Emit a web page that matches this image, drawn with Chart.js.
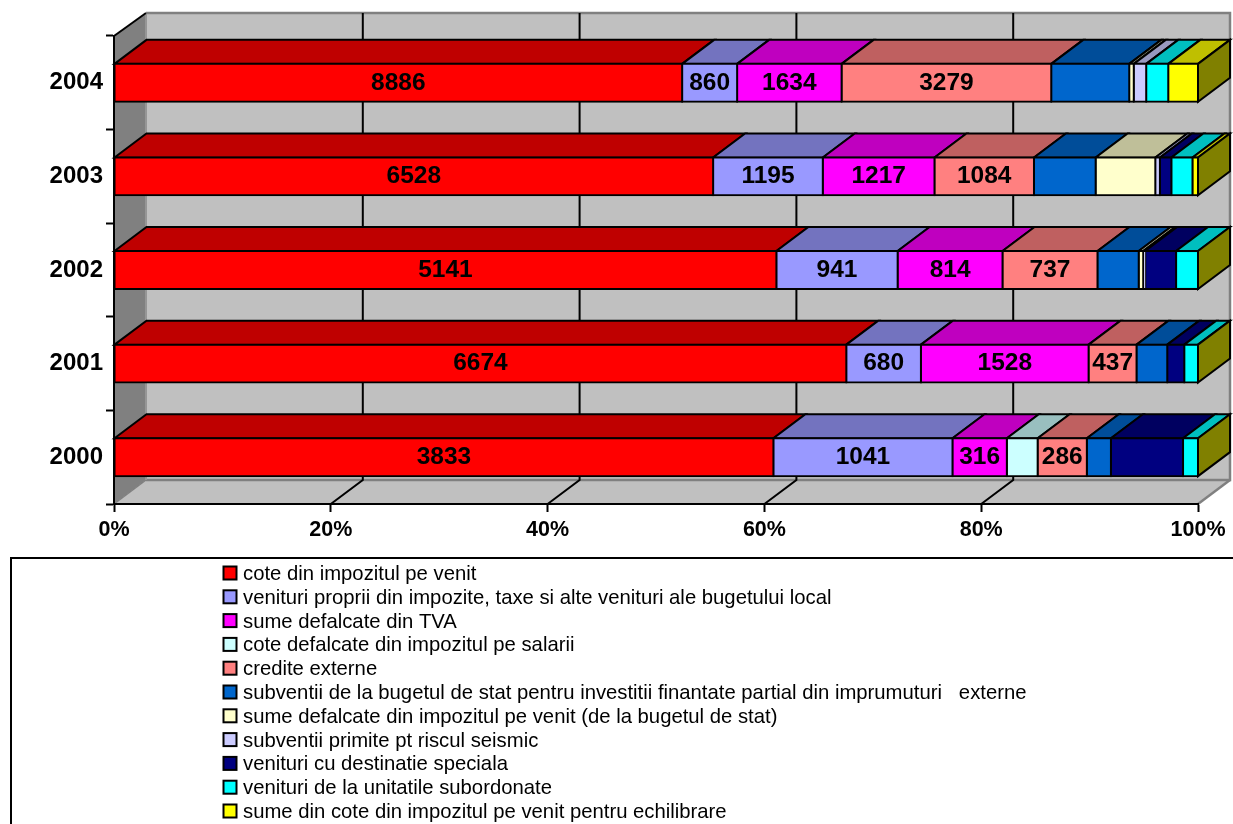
<!DOCTYPE html>
<html>
<head>
<meta charset="utf-8">
<style>html,body{margin:0;padding:0;background:#fff;overflow:hidden}canvas{display:block}</style>
<script src="https://cdn.jsdelivr.net/npm/chart.js@4/dist/chart.umd.min.js"></script>
</head>
<body>
<canvas id="c" width="1233" height="824"></canvas>
<script>
const years = ['2000','2001','2002','2003','2004'];
const tickLabels = ['0%','20%','40%','60%','80%','100%'];

const coteImpozit   = [3833,6674,5141,6528,8886];
const venituriProprii = [1041,680,941,1195,860];
const sumeTVA       = [316,1528,814,1217,1634];
const coteSalarii   = [179,0,0,0,0];
const crediteExterne= [286,437,737,1084,3279];
const subventiiInv  = [140,280,320,672,1220];
const sumeImpozit   = [0,0,35,650,70];
const subventiiSeism= [0,0,15,50,195];
const destSpeciala  = [419,155,240,125,0];
const unitati       = [87,125,170,230,345];
const echilibrare   = [0,0,0,60,465];

const seriesNames = [
  'cote din impozitul pe venit',
  'venituri proprii din impozite, taxe si alte venituri ale bugetului local',
  'sume defalcate din TVA',
  'cote defalcate din impozitul pe salarii',
  'credite externe',
  'subventii de la bugetul de stat pentru investitii finantate partial din imprumuturi   externe',
  'sume defalcate din impozitul pe venit (de la bugetul de stat)',
  'subventii primite pt riscul seismic',
  'venituri cu destinatie speciala',
  'venituri de la unitatile subordonate',
  'sume din cote din impozitul pe venit pentru echilibrare'
];
const seriesValues = [coteImpozit,venituriProprii,sumeTVA,coteSalarii,crediteExterne,subventiiInv,sumeImpozit,subventiiSeism,destSpeciala,unitati,echilibrare];
const seriesColors = ['#FF0000','#9999FF','#FF00FF','#CCFFFF','#FF8080','#0066CC','#FFFFCC','#CCCCFF','#000080','#00FFFF','#FFFF00'];
const topColors    = ['#BF0000','#7373BF','#BF00BF','#99BFBF','#BF6060','#004D99','#BFBF99','#9999BF','#000060','#00BFBF','#BFBF00'];
const labelledSeries = [0,1,2,4];

const totals = years.map((_,i)=>seriesValues.reduce((s,a)=>s+a[i],0));
const percent = (a)=>a.map((v,i)=>v>0?v/totals[i]*100:null);

const DX=32, DY=24, WALL_TOP=13;
const FONT='"Liberation Sans", Arial, sans-serif';

const scene3d = {
  id:'scene3d',
  beforeDraw(chart){
    const {ctx,chartArea:a}=chart, xs=chart.scales.x;
    ctx.save();
    // left wall
    ctx.fillStyle='#808080';
    ctx.beginPath();ctx.moveTo(a.left,a.top);ctx.lineTo(a.left+DX,WALL_TOP);ctx.lineTo(a.left+DX,a.bottom-DY);ctx.lineTo(a.left,a.bottom);ctx.closePath();ctx.fill();
    // back wall
    ctx.fillStyle='#C0C0C0';
    ctx.fillRect(a.left+DX,WALL_TOP,a.right-a.left,a.bottom-DY-WALL_TOP);
    // floor
    ctx.beginPath();ctx.moveTo(a.left,a.bottom);ctx.lineTo(a.right,a.bottom);ctx.lineTo(a.right+DX,a.bottom-DY);ctx.lineTo(a.left+DX,a.bottom-DY);ctx.closePath();ctx.fill();
    // wall edges
    ctx.strokeStyle='#808080';ctx.lineWidth=2.5;
    ctx.beginPath();ctx.moveTo(a.left+DX,WALL_TOP);ctx.lineTo(a.right+DX,WALL_TOP);ctx.lineTo(a.right+DX,a.bottom-DY);ctx.lineTo(a.left+DX,a.bottom-DY);ctx.stroke();
    ctx.beginPath();ctx.moveTo(a.right+DX,a.bottom-DY);ctx.lineTo(a.right,a.bottom);ctx.stroke();
    ctx.lineWidth=1.5;
    ctx.beginPath();ctx.moveTo(a.left,a.bottom);ctx.lineTo(a.left+DX,a.bottom-DY);ctx.stroke();
    ctx.strokeStyle='#969696';ctx.lineWidth=2;
    ctx.beginPath();ctx.moveTo(a.left+DX,WALL_TOP);ctx.lineTo(a.left+DX,a.bottom-DY);ctx.stroke();
    // grid lines on back wall and floor
    ctx.strokeStyle='#000';ctx.lineWidth=2;
    xs.ticks.forEach((t,i)=>{
      const x=xs.getPixelForTick(i);
      if(i===0||i===xs.ticks.length-1) return;
      ctx.beginPath();ctx.moveTo(x,a.bottom);ctx.lineTo(x+DX,a.bottom-DY);ctx.lineTo(x+DX,WALL_TOP);ctx.stroke();
    });
    // top edge of left wall
    ctx.beginPath();ctx.moveTo(a.left,a.top);ctx.lineTo(a.left+DX,WALL_TOP);ctx.stroke();
    ctx.restore();
  },
  beforeDatasetsDraw(chart){
    const {ctx}=chart;
    ctx.save();
    ctx.strokeStyle='#000';ctx.lineWidth=2;ctx.lineJoin='miter';
    years.forEach((_,j)=>{
      let lastX=null,top=0,bot=0;
      seriesValues.forEach((s,i)=>{
        const el=chart.getDatasetMeta(i).data[j];
        if(!el||s[j]<=0) return;
        const p=el.getProps(['x','y','base','height'],true);
        top=p.y-p.height/2;bot=p.y+p.height/2;
        ctx.fillStyle=topColors[i];
        ctx.beginPath();ctx.moveTo(p.base,top);ctx.lineTo(p.base+DX,top-DY);ctx.lineTo(p.x+DX,top-DY);ctx.lineTo(p.x,top);ctx.closePath();ctx.fill();ctx.stroke();
        lastX=p.x;
      });
      ctx.fillStyle='#808000';
      ctx.beginPath();ctx.moveTo(lastX,top);ctx.lineTo(lastX+DX,top-DY);ctx.lineTo(lastX+DX,bot-DY);ctx.lineTo(lastX,bot);ctx.closePath();ctx.fill();ctx.stroke();
    });
    ctx.restore();
  },
  afterDatasetsDraw(chart){
    const {ctx}=chart;
    ctx.save();
    ctx.fillStyle='#000';ctx.font='bold 24.5px '+FONT;ctx.textAlign='center';ctx.textBaseline='middle';
    labelledSeries.forEach(i=>{
      seriesValues[i].forEach((v,j)=>{
        const el=chart.getDatasetMeta(i).data[j];
        if(v<=0) return;
        const c=el.getCenterPoint();
        ctx.fillText(String(v),c.x,c.y);
      });
    });
    ctx.restore();
  },
  afterDraw(chart){
    const {ctx}=chart;
    ctx.save();
    // legend frame, runs off the picture to the right and below
    ctx.strokeStyle='#000';ctx.lineWidth=2;
    ctx.beginPath();ctx.moveTo(11,826);ctx.lineTo(11,558);ctx.lineTo(1235,558);ctx.stroke();
    ctx.font='20.3px '+FONT;ctx.textAlign='left';ctx.textBaseline='alphabetic';
    seriesNames.forEach((name,i)=>{
      const y=566.5+i*23.8;
      ctx.fillStyle=seriesColors[i];ctx.fillRect(223.5,y,13,13);
      ctx.strokeStyle='#000';ctx.lineWidth=2;ctx.strokeRect(223.5,y,13,13);
      ctx.fillStyle='#000';ctx.fillText(name,243,y+13.5);
    });
    ctx.restore();
  }
};

new Chart(document.getElementById('c'),{
  type:'bar',
  plugins:[scene3d],
  data:{
    labels:years,
    datasets:seriesNames.map((n,i)=>({
      label:n,
      data:percent(seriesValues[i]),
      backgroundColor:seriesColors[i],
      borderColor:'#000',
      borderWidth:2,
      borderSkipped:false,
      inflateAmount:1,
      clip:false,
      barPercentage:0.405,
      categoryPercentage:1
    }))
  },
  options:{
    indexAxis:'y',
    responsive:false,
    animation:false,
    layout:{padding:{left:0,right:35,top:36,bottom:288}},
    plugins:{legend:{display:false},tooltip:{enabled:false},title:{display:false}},
    scales:{
      x:{
        stacked:true,min:0,max:100,
        afterFit(s){s.height=32;},
        afterBuildTicks(s){s.ticks=tickLabels.map(t=>({value:parseFloat(t)}));},
        ticks:{color:'#000',font:{family:FONT,size:21.5,weight:'bold'},padding:5,maxRotation:0,autoSkip:false,callback:(v)=>v+'%'},
        grid:{drawOnChartArea:false,drawTicks:true,tickLength:8,tickColor:'#000',tickWidth:2},
        border:{display:true,color:'#000',width:2}
      },
      y:{
        stacked:true,reverse:true,
        afterFit(s){s.width=114;},
        ticks:{color:'#000',font:{family:FONT,size:24,weight:'bold'},padding:3,autoSkip:false},
        grid:{offset:true,drawOnChartArea:false,drawTicks:true,tickLength:8,tickColor:'#000',tickWidth:2},
        border:{display:true,color:'#000',width:2}
      }
    }
  }
});
</script>
</body>
</html>
